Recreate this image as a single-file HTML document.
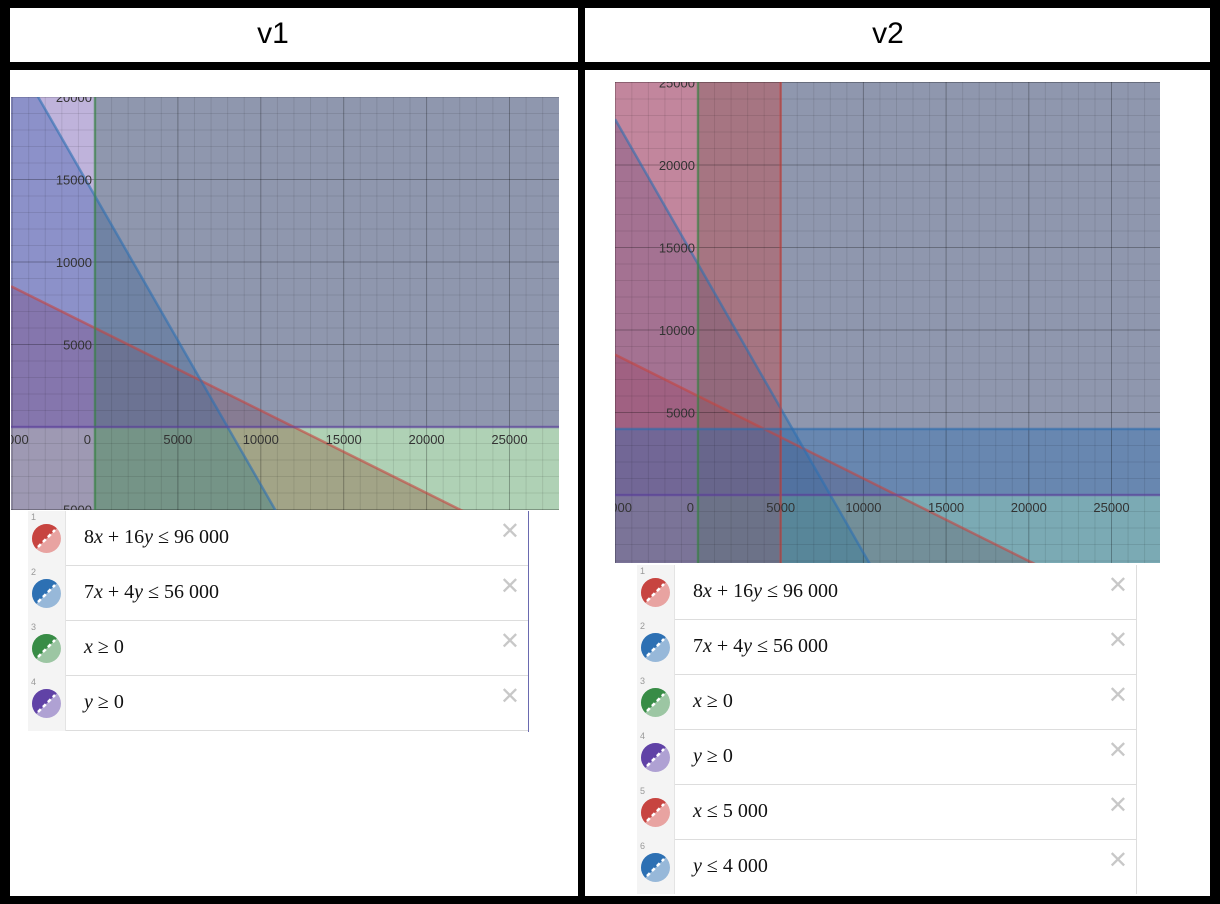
<!DOCTYPE html>
<html><head><meta charset="utf-8">
<style>
html,body{margin:0;padding:0;background:#000;}
body{width:1220px;height:904px;position:relative;overflow:hidden;font-family:"Liberation Sans",sans-serif;}
.cell{position:absolute;background:#fff;}
.title{position:absolute;font-size:30px;color:#000;text-align:center;}
.list{position:absolute;background:#fff;border-right:1px solid #6a6ab0;overflow:hidden;}
.row{position:absolute;left:0;right:0;height:54px;border-bottom:1px solid #ddd;}
.gut{position:absolute;left:0;top:0;width:37px;height:55px;background:#f4f4f4;border-right:1px solid #e4e4e4;}
.num{position:absolute;left:3px;top:1px;font-size:9px;color:#999;}
.ico{position:absolute;left:4px;top:13px;width:29px;height:29px;border-radius:50%;overflow:hidden;}
.ico .t{position:absolute;left:0;top:0;width:29px;height:29px;}
.math{position:absolute;left:56px;top:15px;font-family:"Liberation Serif",serif;font-size:20px;color:#111;white-space:nowrap;}
.math i{font-style:italic;}
.x{position:absolute;right:8px;top:6px;font-size:24px;color:#c8c8c8;}
svg text{font-family:"Liberation Sans",sans-serif;font-size:13px;fill:#333;}
</style></head>
<body>
<div class="cell" style="left:10px;top:8px;width:568px;height:54px;"></div>
<div class="cell" style="left:585px;top:8px;width:625px;height:54px;"></div>
<div class="title" style="left:233px;top:17px;width:80px;">v1</div>
<div class="title" style="left:848px;top:17px;width:80px;">v2</div>
<div class="cell" style="left:10px;top:70px;width:568px;height:826px;"></div>
<div class="cell" style="left:585px;top:70px;width:625px;height:826px;"></div>

<svg id="plot1" style="position:absolute;left:11px;top:97px;" width="548" height="413"></svg>
<svg id="plot2" style="position:absolute;left:615px;top:82px;" width="545" height="481"></svg>

<div class="list" id="list1" style="left:28px;top:511px;width:500px;height:221px;"></div>
<div class="list" id="list2" style="left:637px;top:565px;width:499px;height:329px;border-right:1px solid #ddd;"></div>

<script>
// ---- data ----
const ineqA1 = [8, 7, 1, 0];
const ineqB1 = [16, 4, 0, 1];
const ineqC1 = [96000, 56000, 0, 0];
const ineqSign1 = ["le", "le", "ge", "ge"];
const ineqA2 = [8, 7, 1, 0, 1, 0];
const ineqB2 = [16, 4, 0, 1, 0, 1];
const ineqC2 = [96000, 56000, 0, 0, 5000, 4000];
const ineqSign2 = ["le", "le", "ge", "ge", "le", "le"];
const xTicks = [-5000, 0, 5000, 10000, 15000, 20000, 25000];
const yTicks1 = [-5000, 5000, 10000, 15000, 20000];
const yTicks2 = [-5000, 5000, 10000, 15000, 20000, 25000];
const exprLabels1 = ["8<i>x</i> + 16<i>y</i> ≤ 96 000", "7<i>x</i> + 4<i>y</i> ≤ 56 000", "<i>x</i> ≥ 0", "<i>y</i> ≥ 0"];
const exprLabels2 = ["8<i>x</i> + 16<i>y</i> ≤ 96 000", "7<i>x</i> + 4<i>y</i> ≤ 56 000", "<i>x</i> ≥ 0", "<i>y</i> ≥ 0", "<i>x</i> ≤ 5 000", "<i>y</i> ≤ 4 000"];

const palette = ["#c74440", "#2d70b3", "#388c46", "#6042a6"];
const light = ["#e8a3a1", "#97b8d9", "#9cc6a3", "#afa1d3"];
const NS = "http://www.w3.org/2000/svg";

function clipPoly(poly, a, b, c, sign) {
  const f = p => (sign === "le" ? c - (a*p[0] + b*p[1]) : (a*p[0] + b*p[1]) - c);
  const out = [];
  for (let i = 0; i < poly.length; i++) {
    const P = poly[i], Q = poly[(i+1) % poly.length];
    const fp = f(P), fq = f(Q);
    if (fp >= 0) out.push(P);
    if ((fp >= 0) !== (fq >= 0)) {
      const t = fp / (fp - fq);
      out.push([P[0] + t*(Q[0]-P[0]), P[1] + t*(Q[1]-P[1])]);
    }
  }
  return out;
}

function drawPlot(svg, W, H, xmin, xmax, ymin, ymax, A, B, C, S, yTicks) {
  const sx = v => (v - xmin) / (xmax - xmin) * W;
  const sy = v => H - (v - ymin) / (ymax - ymin) * H;
  const bg = document.createElementNS(NS, "rect");
  bg.setAttribute("width", W); bg.setAttribute("height", H); bg.setAttribute("fill", "#fff");
  
  
  svg.appendChild(bg);
  const rect = [[xmin, ymin], [xmax, ymin], [xmax, ymax], [xmin, ymax]];
  for (let i = 0; i < A.length; i++) {
    const poly = clipPoly(rect, A[i], B[i], C[i], S[i]);
    const pg = document.createElementNS(NS, "polygon");
    pg.setAttribute("points", poly.map(p => sx(p[0]) + "," + sy(p[1])).join(" "));
    pg.setAttribute("fill", palette[i % 4]);
    pg.setAttribute("fill-opacity", "0.4");
    
    
    svg.appendChild(pg);
  }
  for (let v = Math.ceil(xmin/1000)*1000; v <= xmax; v += 1000) {
    const l = document.createElementNS(NS, "line");
    l.setAttribute("x1", sx(v)); l.setAttribute("x2", sx(v)); l.setAttribute("y1", 0); l.setAttribute("y2", H);
    l.setAttribute("stroke", "#000"); l.setAttribute("stroke-opacity", v % 5000 === 0 ? "0.28" : "0.09");
    
    
    svg.appendChild(l);
  }
  for (let v = Math.ceil(ymin/1000)*1000; v <= ymax; v += 1000) {
    const l = document.createElementNS(NS, "line");
    l.setAttribute("y1", sy(v)); l.setAttribute("y2", sy(v)); l.setAttribute("x1", 0); l.setAttribute("x2", W);
    l.setAttribute("stroke", "#000"); l.setAttribute("stroke-opacity", v % 5000 === 0 ? "0.28" : "0.09");
    
    
    svg.appendChild(l);
  }
  for (let i = 0; i < A.length; i++) {
    let x1, y1, x2, y2;
    if (B[i] === 0) { x1 = x2 = C[i]/A[i]; y1 = ymin; y2 = ymax; }
    else { x1 = xmin; x2 = xmax; y1 = (C[i] - A[i]*x1)/B[i]; y2 = (C[i] - A[i]*x2)/B[i]; }
    const l = document.createElementNS(NS, "line");
    l.setAttribute("x1", sx(x1)); l.setAttribute("y1", sy(y1)); l.setAttribute("x2", sx(x2)); l.setAttribute("y2", sy(y2));
    l.setAttribute("stroke", palette[i % 4]); l.setAttribute("stroke-width", "2.5"); l.setAttribute("stroke-opacity", "0.6");
    
    
    svg.appendChild(l);
  }
  const y0 = sy(0), x0 = sx(0);
  for (const v of xTicks) {
    const t = document.createElementNS(NS, "text");
    t.setAttribute("x", v === 0 ? x0 - 4 : sx(v)); t.setAttribute("y", y0 + 17);
    t.setAttribute("text-anchor", v === 0 ? "end" : "middle");
    t.textContent = String(v);
    
    
    svg.appendChild(t);
  }
  for (const v of yTicks) {
    const t = document.createElementNS(NS, "text");
    t.setAttribute("x", x0 - 3); t.setAttribute("y", sy(v) + 5);
    t.setAttribute("text-anchor", "end");
    t.textContent = String(v);
    
    
    svg.appendChild(t);
  }
}

drawPlot(document.getElementById("plot1"), 548, 413, -5066, 27986, -5030, 20000, ineqA1, ineqB1, ineqC1, ineqSign1, yTicks1);
drawPlot(document.getElementById("plot2"), 545, 481, -5018, 27932, -4122, 25030, ineqA2, ineqB2, ineqC2, ineqSign2, yTicks2);

function buildList(el, labels) {
  labels.forEach((lab, i) => {
    const r = document.createElement("div");
    r.className = "row"; r.style.top = (i*55) + "px";
    
    
    const c = palette[i % 4], lc = light[i % 4];
    r.innerHTML =
      '<div class="gut"><span class="num">' + (i+1) + '</span>' +
      '<div class="ico" style="background:' + lc + '"><svg class="t" width="29" height="29"><polygon points="0,0 29,0 0,29" fill="' + c + '"/><line x1="6" y1="23" x2="23" y2="6" stroke="#fff" stroke-width="2.5" stroke-dasharray="4,3"/></svg></div></div>' +
      '<div class="math">' + lab + '</div><div class="x">✕</div>';
    r.querySelector(".ico");
    r.querySelector(".ico");
    r.querySelector(".math");
    r.querySelector(".math");
    r.querySelector(".x");
    r.querySelector(".x");
    el.appendChild(r);
  });
}
buildList(document.getElementById("list1"), exprLabels1);
buildList(document.getElementById("list2"), exprLabels2);
</script>
</body></html>
